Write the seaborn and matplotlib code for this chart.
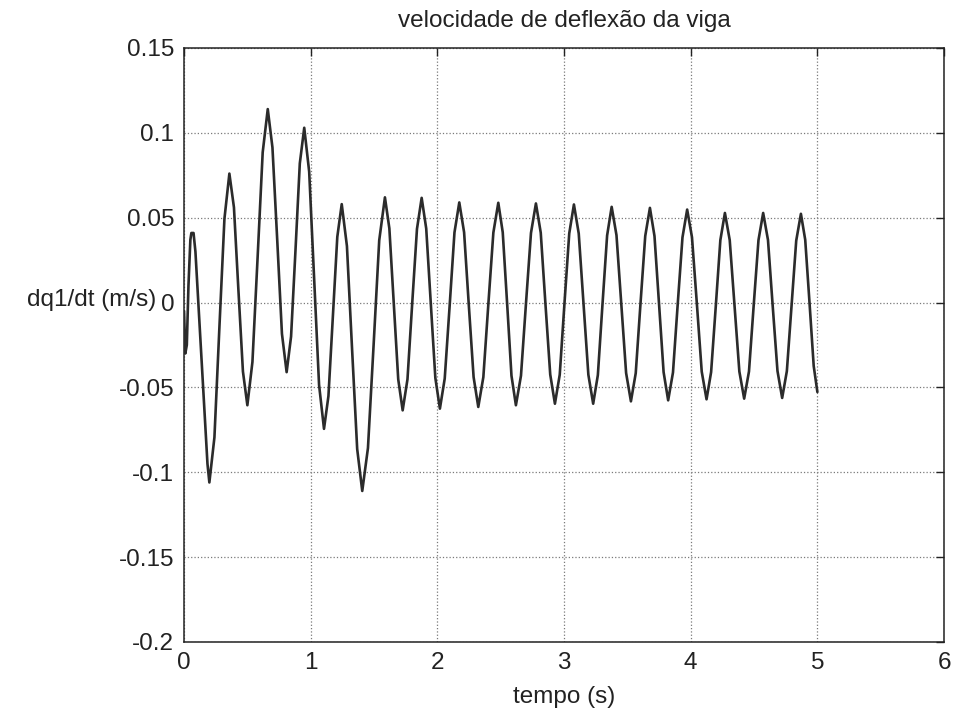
import matplotlib
matplotlib.use("Agg")
import matplotlib.pyplot as plt
import seaborn as sns
import pandas as pd

# time (s) and beam deflection velocity dq1/dt (m/s)
tempo = [
    0.000, 0.010, 0.022, 0.035, 0.050, 0.058, 0.075, 0.090, 0.113, 0.152, 0.185, 0.200,
    0.240, 0.279, 0.319, 0.358,
    0.394, 0.429, 0.465, 0.500,
    0.540, 0.581, 0.621, 0.661,
    0.698, 0.736, 0.773, 0.810,
    0.845, 0.880, 0.914, 0.949,
    0.988, 1.027, 1.066, 1.105,
    1.140, 1.175, 1.210, 1.245,
    1.286, 1.326, 1.367, 1.407,
    1.452, 1.497, 1.541, 1.586,
    1.621, 1.656, 1.691, 1.726,
    1.764, 1.801, 1.839, 1.876,
    1.912, 1.948, 1.984, 2.020,
    2.058, 2.097, 2.135, 2.173,
    2.211, 2.248, 2.286, 2.323,
    2.363, 2.402, 2.442, 2.481,
    2.516, 2.551, 2.585, 2.620,
    2.660, 2.699, 2.739, 2.778,
    2.816, 2.853, 2.891, 2.928,
    2.966, 3.003, 3.041, 3.078,
    3.116, 3.154, 3.192, 3.230,
    3.267, 3.303, 3.340, 3.376,
    3.414, 3.452, 3.490, 3.528,
    3.566, 3.603, 3.641, 3.678,
    3.714, 3.750, 3.786, 3.822,
    3.860, 3.897, 3.935, 3.972,
    4.010, 4.049, 4.087, 4.125,
    4.161, 4.198, 4.234, 4.270,
    4.308, 4.346, 4.384, 4.422,
    4.460, 4.497, 4.535, 4.572,
    4.610, 4.647, 4.685, 4.722,
    4.759, 4.796, 4.833, 4.870,
    4.904, 4.938, 4.971, 5.000,
]
velocidade = [
    -0.005, -0.030, -0.025, 0.010, 0.037, 0.041, 0.041, 0.030, 0.000, -0.050, -0.095, -0.106,
    -0.0794, -0.0150, 0.0494, 0.0760,
    0.0561, 0.0078, -0.0406, -0.0605,
    -0.0350, 0.0268, 0.0885, 0.1140,
    0.0914, 0.0365, -0.0184, -0.0410,
    -0.0200, 0.0310, 0.0820, 0.1030,
    0.0771, 0.0143, -0.0485, -0.0744,
    -0.0551, -0.0082, 0.0387, 0.0580,
    0.0333, -0.0265, -0.0863, -0.1110,
    -0.0857, -0.0245, 0.0367, 0.0620,
    0.0437, -0.0008, -0.0452, -0.0635,
    -0.0452, -0.0009, 0.0434, 0.0617,
    0.0436, -0.0004, -0.0444, -0.0625,
    -0.0448, -0.0018, 0.0413, 0.0590,
    0.0414, -0.0013, -0.0439, -0.0615,
    -0.0439, -0.0014, 0.0412, 0.0588,
    0.0414, -0.0009, -0.0431, -0.0605,
    -0.0431, -0.0011, 0.0410, 0.0584,
    0.0412, -0.0006, -0.0424, -0.0596,
    -0.0425, -0.0009, 0.0407, 0.0578,
    0.0407, -0.0009, -0.0425, -0.0596,
    -0.0427, -0.0016, 0.0395, 0.0564,
    0.0397, -0.0009, -0.0415, -0.0582,
    -0.0416, -0.0012, 0.0392, 0.0558,
    0.0392, -0.0009, -0.0410, -0.0576,
    -0.0412, -0.0014, 0.0384, 0.0548,
    0.0385, -0.0011, -0.0407, -0.0570,
    -0.0410, -0.0021, 0.0368, 0.0528,
    0.0368, -0.0019, -0.0406, -0.0566,
    -0.0406, -0.0019, 0.0368, 0.0528,
    0.0369, -0.0017, -0.0403, -0.0562,
    -0.0404, -0.0019, 0.0365, 0.0523,
    0.0370, -0.0002, -0.0374, -0.0527,
]

x_ticks = [0, 1, 2, 3, 4, 5, 6]
x_tick_labels = ["0", "1", "2", "3", "4", "5", "6"]
y_ticks = [-0.2, -0.15, -0.1, -0.05, 0, 0.05, 0.1, 0.15]
y_tick_labels = ["-0.2", "-0.15", "-0.1", "-0.05", "0", "0.05", "0.1", "0.15"]

titulo = "velocidade de deflexão da viga"
rotulo_x = "tempo (s)"
rotulo_y = "dq1/dt (m/s)"

sns.set_theme(style="white")
plt.rcParams["font.family"] = ["Liberation Sans", "DejaVu Sans"]

df = pd.DataFrame({"tempo": tempo, "velocidade": velocidade})

fig = plt.figure(figsize=(9.56, 7.09), dpi=100)
fig.patch.set_facecolor("white")
ax = fig.add_axes([0.1925, 0.0945, 0.795, 0.8378])
ax.set_facecolor("white")

sns.lineplot(data=df, x="tempo", y="velocidade", ax=ax, estimator=None, sort=False,
             color="#2b2b2b", linewidth=1.9, zorder=3,
             solid_joinstyle="round", solid_capstyle="round")

ax.set_xlim(0, 6)
ax.set_ylim(-0.2, 0.15)
ax.set_xticks(x_ticks)
ax.set_xticklabels(x_tick_labels)
ax.set_yticks(y_ticks)
ax.set_yticklabels(y_tick_labels)

ax.grid(True, linestyle=":", color="#7a7a7a", linewidth=0.9)
for s in ax.spines.values():
    s.set_visible(True)
    s.set_color("#222222")
    s.set_linewidth(1.1)

ax.tick_params(direction="in", length=6, width=1, top=True, right=True,
               labelsize=17.5, colors="#222222", pad=7)

ax.set_title(titulo, fontsize=17.5, pad=15, color="#222222")
ax.set_xlabel(rotulo_x, fontsize=17.5, color="#222222", labelpad=9)
ax.set_ylabel(rotulo_y, fontsize=17.5, color="#222222", rotation=0, ha="right", va="center")
ax.yaxis.set_label_coords(-0.037, 0.575)

fig.savefig("out.png", dpi=100, facecolor="white")
